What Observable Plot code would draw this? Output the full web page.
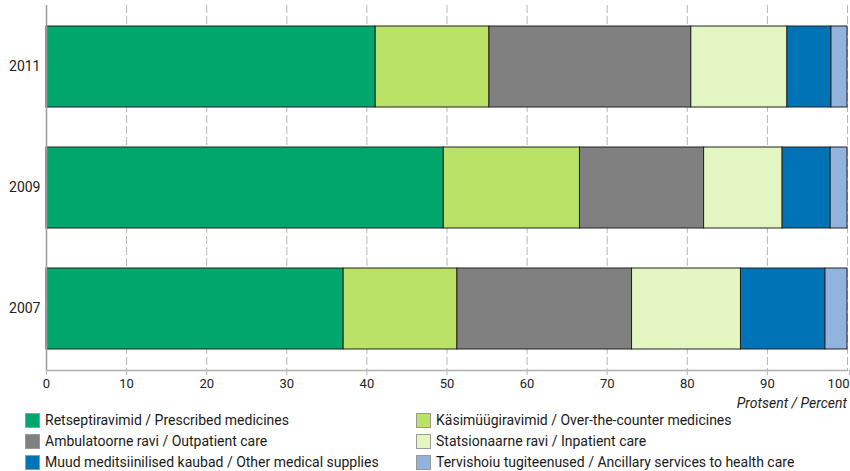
<!DOCTYPE html>
<html><head><meta charset="utf-8">
<script src="https://cdn.jsdelivr.net/npm/d3@7"></script>
<script src="https://cdn.jsdelivr.net/npm/@observablehq/plot@0.6"></script>
<style>
body{margin:0;background:#fff;font-family:Roboto,"DejaVu Sans",sans-serif;color:#222;}
#wrap{position:relative;width:850px;height:471px;overflow:hidden;}
#chart{position:absolute;left:0;top:0;}
.unit{position:absolute;right:3px;top:395px;font-size:14px;font-style:italic;color:#222;}
.leg{position:absolute;font-size:14px;line-height:16px;white-space:nowrap;color:#1a1a1a;}
.sw{display:inline-block;width:15px;height:15px;box-sizing:border-box;border:1px solid #999;vertical-align:-3px;margin-right:5px;}
</style></head><body><div id="wrap"><div id="chart"></div></div>
<script>
const years = ["2011", "2009", "2007"];
const categories = [
  "Retseptiravimid / Prescribed medicines",
  "Käsimüügiravimid / Over-the-counter medicines",
  "Ambulatoorne ravi / Outpatient care",
  "Statsionaarne ravi / Inpatient care",
  "Muud meditsiinilised kaubad / Other medical supplies",
  "Tervishoiu tugiteenused / Ancillary services to health care"
];
const values2011 = [41.1, 14.2, 25.2, 12.0, 5.5, 2.0];
const values2009 = [49.6, 17.0, 15.5, 9.8, 6.0, 2.1];
const values2007 = [37.1, 14.2, 21.8, 13.6, 10.55, 2.75];
const colors = ["#00a66b", "#bae267", "#808080", "#e3f6c1", "#0072b6", "#93b3df"];
const xTicks = [0, 10, 20, 30, 40, 50, 60, 70, 80, 90, 100];
const unitLabel = "Protsent / Percent";

const series = {"2011": values2011, "2009": values2009, "2007": values2007};
const data = [];
for (const y of years) series[y].forEach((v, i) => data.push({year: y, category: categories[i], value: v}));

const plot = Plot.plot({
  width: 850, height: 392,
  marginLeft: 46, marginRight: 3, marginTop: 5, marginBottom: 22,
  style: {fontFamily: "Roboto, 'DejaVu Sans', sans-serif", fontSize: "13px", color: "#222", background: "#fff"},
  x: {domain: [0, 100], ticks: xTicks},
  y: {domain: years, paddingInner: 0.33, paddingOuter: 0.165},
  color: {domain: categories, range: colors},
  marks: [
    Plot.gridX(xTicks.slice(1), {stroke: "#b8b8b8", strokeOpacity: 1, strokeDasharray: "8,3", strokeWidth: 1}),
    Plot.barX(data, {x: "value", y: "year", fill: "category", stroke: "#222", strokeWidth: 1, order: categories}),
    Plot.ruleX([0], {stroke: "#9a9a9a", strokeWidth: 1.5}),
    Plot.frame({anchor: "bottom", stroke: "#b0b0b0", strokeWidth: 1.5}),
    Plot.axisX(xTicks.slice(0, -1), {tickSize: 5, tickPadding: 3, stroke: "#b8b8b8", fontSize: 13, fill: "#222", label: null}),
    Plot.axisX(xTicks.slice(-1), {tickSize: 5, tickPadding: 3, stroke: "#b8b8b8", fontSize: 13, fill: "#222", label: null, textAnchor: "end", dx: 2}),
    Plot.axisY({tickSize: 0, tickPadding: 6, fontSize: 14, fill: "#222", label: null})
  ]
});
document.getElementById("chart").appendChild(plot);

const wrap = document.getElementById("wrap");
const u = document.createElement("div");
u.className = "unit"; u.textContent = unitLabel; wrap.appendChild(u);
categories.forEach((c, i) => {
  const col = i % 2, row = Math.floor(i / 2);
  const d = document.createElement("div");
  d.className = "leg";
  d.style.left = (col ? 416 : 25) + "px";
  d.style.top = (412 + row * 21) + "px";
  d.innerHTML = `<span class="sw" style="background:${colors[i]}"></span>`;
  d.appendChild(document.createTextNode(c));
  wrap.appendChild(d);
});
</script></body></html>
